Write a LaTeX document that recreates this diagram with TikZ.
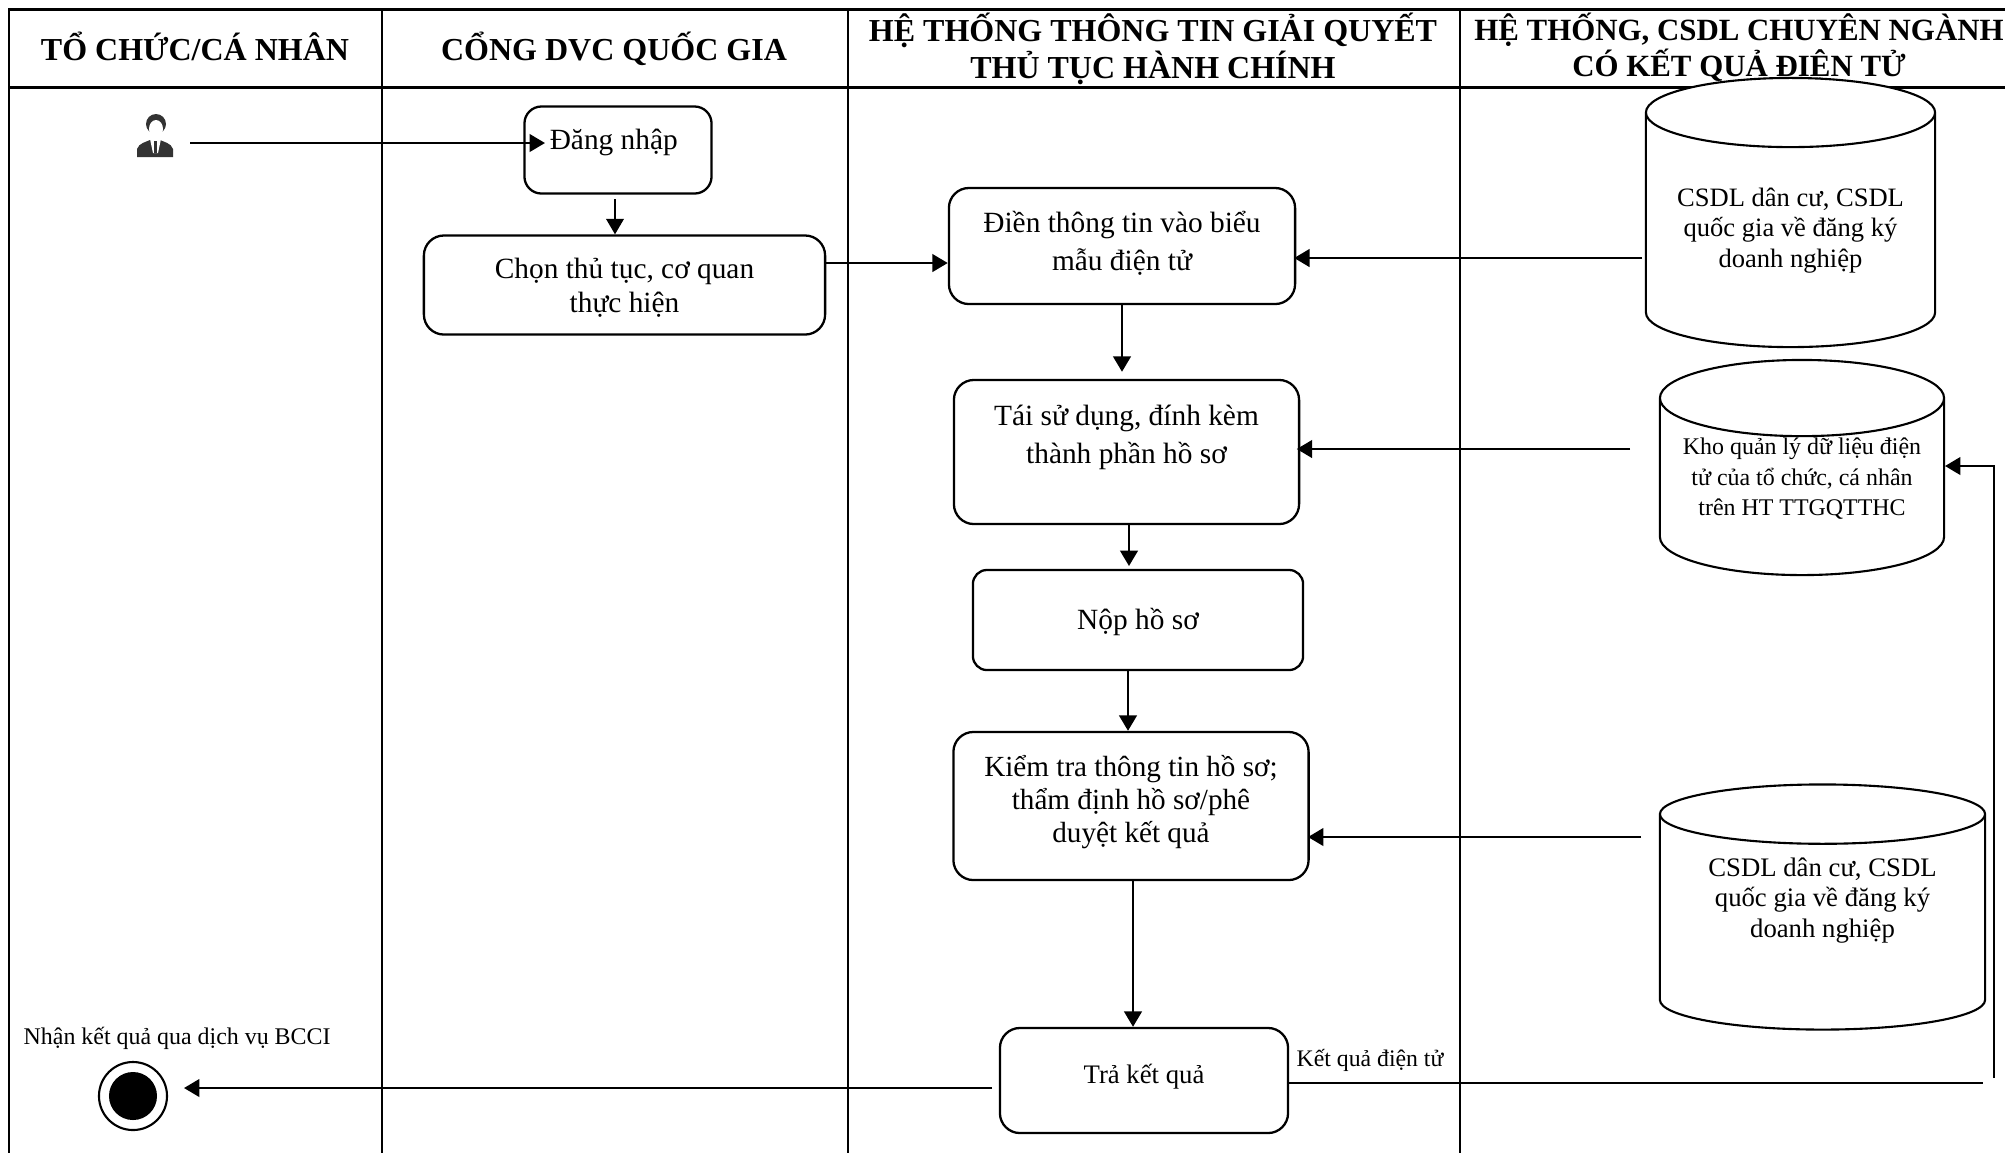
\documentclass[tikz,border=0pt]{standalone}
\usepackage{fontspec}
\setmainfont{Liberation Serif}
\usepackage{tikz}
\usetikzlibrary{arrows.meta,shapes.geometric}
\tikzset{
    lane/.style={line width=0.65pt},
    frameline/.style={line width=0.85pt},
    head/.style={font=\bfseries\fontsize{9.1}{10.6}\selectfont,align=center},
    stepbox/.style={draw,line width=0.65pt,rounded corners=0.2cm,align=center,inner sep=0pt,font=\fontsize{8.35}{11}\selectfont},
    dbase/.style={draw,fill=white,line width=0.6pt,cylinder,shape border rotate=90,inner sep=0pt,align=center,anchor=shape center},
    flow/.style={line width=0.75pt,-{Triangle[length=4.4pt,width=5pt]}},
    note/.style={inner sep=0pt,font=\fontsize{6.75}{8}\selectfont}
}
\begin{document}
\begin{tikzpicture}[x=0.01cm,y=-0.01cm]
    \useasboundingbox (0,0) rectangle (2005,1153);

    % Lanes
    \draw[frameline] (2005,9)--(9,9)--(9,1153);
    \draw[frameline] (9,87)--(2005,87);
    \foreach \x in {382,848,1460}{
    \draw[lane] (\x,9)--(\x,1153);
    }

    % Headers
    \node[head] (headorg) at (195,46) {TỔ CHỨC/CÁ NHÂN};
    \node[head] (headportal) at (614,49) {CỔNG DVC QUỐC GIA};
    \node[head] (headsys) at (1153,49) {HỆ THỐNG THÔNG TIN GIẢI QUYẾT\\THỦ TỤC HÀNH CHÍNH};
    \node[head,font=\bfseries\fontsize{8.78}{10.2}\selectfont] (headdb) at (1739,48) {HỆ THỐNG, CSDL CHUYÊN NGÀNH\\CÓ KẾT QUẢ ĐIỆN TỬ};

    % User
    \node[minimum width=0.4cm,minimum height=0.52cm,inner sep=0pt] (user) at (155,135) {};
    \fill[black!80] (137,157)--(137,149) .. controls (139,143) and (146,142) .. (150,140)--(160,140) .. controls (164,142) and (171,143) .. (173,149)--(173,157)--cycle;
    \fill[black!80] (156,124) circle(10);
    \fill[white] (156,129) ellipse(7 and 9);
    \fill[white] (150,139)--(161,139)--(158,153)--(153,153)--cycle;
    \fill[black!80] (154,141)--(157,141)--(157,153)--(154,153)--cycle;

    % Steps
    \node[stepbox,minimum width=1.87cm,minimum height=0.87cm,rounded corners=0.17cm] (login) at (618,150) {Đăng nhập\hspace*{2.4pt}\\[-5pt]\mbox{}};
    \node[stepbox,minimum width=4.01cm,minimum height=0.99cm,font=\fontsize{8.35}{9.8}\selectfont] (choose) at (624.5,285) {\mbox{}\\[-2.4pt]Chọn thủ tục, cơ quan\\thực hiện};
    \node[stepbox,minimum width=3.46cm,minimum height=1.16cm] (fill) at (1122,246) {Điền thông tin vào biểu\\mẫu điện tử\\[-8pt]\mbox{}};
    \node[stepbox,minimum width=3.45cm,minimum height=1.44cm] (reuse) at (1126.5,452) {Tái sử dụng, đính kèm\\thành phần hồ sơ\\[-1pt]\mbox{}};
    \node[stepbox,minimum width=3.30cm,minimum height=1.00cm,rounded corners=0.14cm,text height=7pt] (submit) at (1138,620) {Nộp hồ sơ};
    \node[stepbox,minimum width=3.55cm,minimum height=1.48cm,font=\fontsize{8.3}{9.5}\selectfont] (check) at (1131,806) {Kiểm tra thông tin hồ sơ;\\thẩm định hồ sơ/phê\\duyệt kết quả\\[-5.5pt]\mbox{}};
    \node[stepbox,minimum width=2.88cm,minimum height=1.05cm,font=\fontsize{7.6}{9}\selectfont,text depth=3.8pt] (result) at (1144,1080.5) {Trả kết quả};

    % Databases
    \node[dbase,minimum width=2.89cm,minimum height=2.69cm,aspect=0.305,font=\fontsize{7.55}{8.7}\selectfont] (dbone) at (1790.5,212.5) {CSDL dân cư, CSDL\\quốc gia về đăng ký\\doanh nghiệp};
    \node[dbase,minimum width=2.84cm,minimum height=2.15cm,aspect=0.32,font=\fontsize{6.8}{8.7}\selectfont] (dbtwo) at (1802,467.5) {Kho quản lý dữ liệu điện\\tử của tổ chức, cá nhân\\trên HT TTGQTTHC\\[-2.9pt]\mbox{}};
    \node[dbase,minimum width=3.25cm,minimum height=2.45cm,aspect=0.26,font=\fontsize{7.6}{8.7}\selectfont] (dbthree) at (1822.5,907) {CSDL dân cư, CSDL\\quốc gia về đăng ký\\doanh nghiệp\\[5.5pt]\mbox{}};

    % End point
    \node[circle,draw,line width=0.6pt,minimum size=0.68cm,inner sep=0pt] (finish) at (133,1096) {};
    \node[circle,fill=black,minimum size=0.48cm,inner sep=0pt] (finishdot) at (finish) {};
    \node[note,anchor=west,font=\fontsize{6.8}{8}\selectfont] (bcci) at (23,1038) {Nhận kết quả qua dịch vụ BCCI};
    \node[note,anchor=west] (eresult) at (1296,1060) {Kết quả điện tử};

    % Free ends
    \coordinate (userout) at (190,143);
    \coordinate (loginin) at (545,143);
    \coordinate (loginout) at (615,199);
    \coordinate (chooseout) at (825,263);
    \coordinate (dboneout) at (1642,258);
    \coordinate (dbtwoout) at (1630,449);
    \coordinate (dbthreeout) at (1641,837);
    \coordinate (reuseout) at (1129,524);
    \coordinate (submitout) at (1128,670);
    \coordinate (checkout) at (1133,880);
    \coordinate (resultin) at (992,1088);
    \coordinate (finishin) at (184,1088);
    \coordinate (resultout) at (1288,1083);
    \coordinate (eresultend) at (1983,1083);
    \coordinate (backstart) at (1994,1078);
    \coordinate (dbtwoin) at (1945,466);

    % Connectors
    \draw[flow] (userout) -- (loginin);
    \draw[flow,line width=0.55pt] (loginout) -- (loginout |- choose.north);
    \draw[flow] (chooseout) -- (fill.west |- chooseout);
    \draw[flow,shorten >=-0.6pt] (dboneout) -- (fill.east |- dboneout);
    \draw[flow,shorten >=2pt] (fill.south) -- (fill.south |- reuse.north);
    \draw[flow,shorten >=-1pt] (dbtwoout) -- (reuse.east |- dbtwoout);
    \draw[flow,shorten >=0.8pt] (reuseout) -- (reuseout |- submit.north);
    \draw[flow] (submitout) -- (submitout |- check.north);
    \draw[flow,shorten >=-0.5pt] (dbthreeout) -- (check.east |- dbthreeout);
    \draw[flow] (checkout) -- (checkout |- result.north);
    \draw[flow] (resultin) -- (finishin);
    \draw[line width=0.7pt] (resultout) -- (eresultend);
    \draw[flow] (backstart) |- (dbtwoin);
\end{tikzpicture}
\end{document}
